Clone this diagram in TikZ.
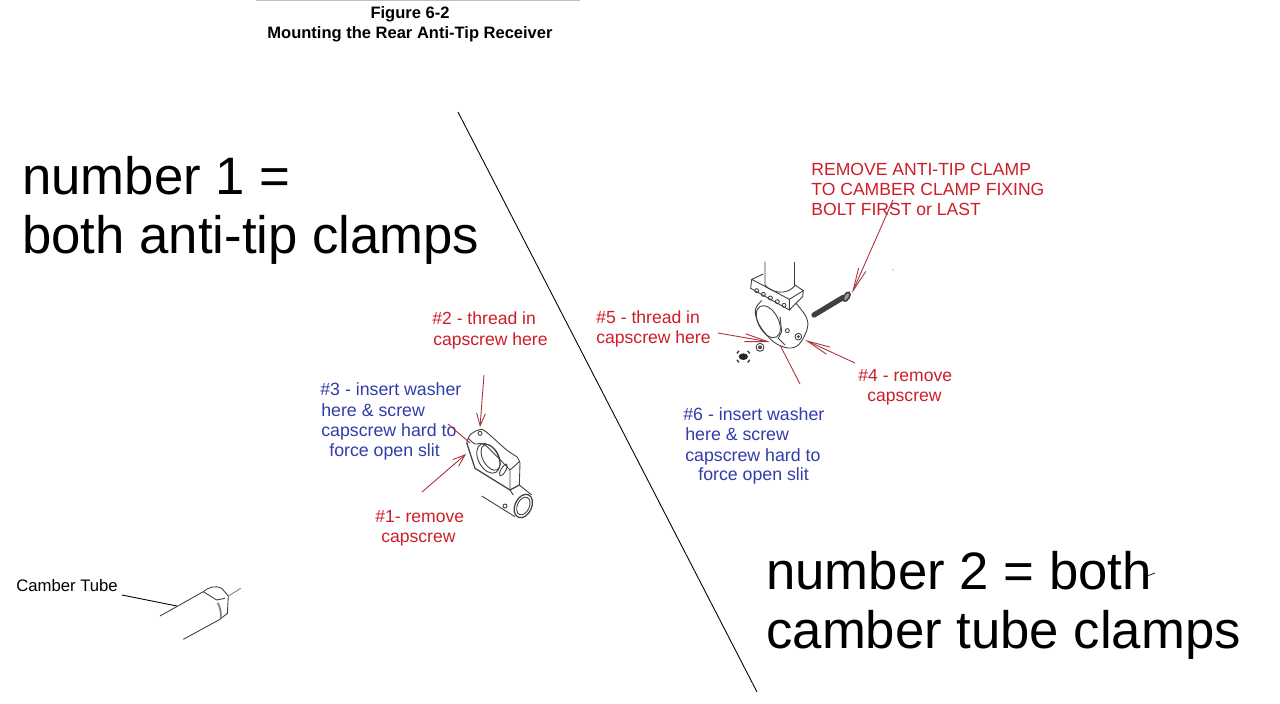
\documentclass[tikz,border=0pt]{standalone}
\usepackage{fontspec}
\setmainfont{Liberation Sans}
\usetikzlibrary{arrows.meta}
\definecolor{notered}{RGB}{205,30,40}
\definecolor{noteblue}{RGB}{50,60,170}
\definecolor{leadred}{RGB}{170,50,60}
\tikzset{
  rednote/.style={anchor=base west,inner sep=0pt,text=notered,font=\fontsize{10}{12}\selectfont},
  bluenote/.style={anchor=base west,inner sep=0pt,text=noteblue,font=\fontsize{10.1}{12}\selectfont},
  bignote/.style={anchor=base west,inner sep=0pt,text=black,font=\fontsize{30}{36}\selectfont},
  titlenote/.style={anchor=base,inner sep=0pt,font=\bfseries\fontsize{9.4}{11}\selectfont},
  lead/.style={leadred,line width=.5pt},
  leadarrow/.style={lead,-{Straight Barb[length=13pt,width=4.5pt]}},
  shortarrow/.style={lead,-{Straight Barb[length=7pt,width=5pt]}},
  part/.style={black!75,line width=.5pt}
}
\begin{document}
\begin{tikzpicture}[x=.02cm,y=-.02cm]
  \useasboundingbox (0,0) rectangle (1280,703);
  \fill[white] (0,0) rectangle (1280,703);
  \draw[black!25,line width=.6pt] (256,0) -- (580,0);

  % titles
  \node[titlenote] (fig) at (410,18) {Figure 6-2};
  \node[titlenote] (mount) at (410,38) {Mounting the Rear Anti-Tip Receiver};

  % dividing line
  \coordinate (divtop) at (458,112);
  \coordinate (divbot) at (757,692);
  \draw[line width=.5pt] (divtop) -- (divbot);

  % big captions
  \node[bignote] (one) at (22,194) {number 1 =};
  \node[bignote] (oneb) at (22,253) {both anti-tip clamps};
  \node[bignote] (two) at (766,589) {number 2 = both};
  \node[bignote] (twob) at (766,648) {camber tube clamps};
  \coordinate (ticka) at (1147,576);
  \coordinate (tickb) at (1155,573);
  \draw[line width=.4pt] (ticka) -- (tickb);

  % red notes, right side
  \node[rednote] (rema) at (811,175) {REMOVE ANTI-TIP CLAMP};
  \node[rednote] (remb) at (811,195) {TO CAMBER CLAMP FIXING};
  \node[rednote] (remc) at (811,215) {BOLT FIRST or LAST};
  \node[rednote] (fivea) at (596,323) {\#5 - thread in};
  \node[rednote] (fiveb) at (596,343) {capscrew here};
  \node[rednote] (foura) at (858,381) {\#4 - remove};
  \node[rednote] (fourb) at (867,401) {capscrew};
  \node[bluenote] (sixa) at (683,420) {\#6 - insert washer};
  \node[bluenote] (sixb) at (685,440) {here \& screw};
  \node[bluenote] (sixc) at (685,461) {capscrew hard to};
  \node[bluenote] (sixd) at (698,480) {force open slit};

  % notes, left side
  \node[rednote] (twoa) at (432,324) {\#2 - thread in};
  \node[rednote] (twoc) at (433,345) {capscrew here};
  \node[bluenote] (threea) at (320,395) {\#3 - insert washer};
  \node[bluenote] (threeb) at (321,416) {here \& screw};
  \node[bluenote] (threec) at (321,436) {capscrew hard to};
  \node[bluenote] (threed) at (329,456) {force open slit};
  \node[rednote] (onea) at (375,522) {\#1- remove};
  \node[rednote] (oneb2) at (381,542) {capscrew};
  \node[anchor=base west,inner sep=0pt,font=\fontsize{9.5}{11}\selectfont] (camber) at (16,591) {Camber Tube};

  % first clamp
  \begin{scope}[shift={(460,420)},scale=.3333]
    \draw[part] plot[smooth,tension=.5] coordinates {(20,68) (30,45) (55,30) (75,33) (140,90) (172,112) (180,130)} -- (178,195);
    \draw[part,line width=.7pt] (20,68) -- (45,145) -- (150,210) -- (178,195);
    \draw[part] plot[smooth,tension=.5] coordinates {(25,55) (45,72) (75,75) (150,150)} -- (150,210);
    \draw[part] (150,150) -- (178,125);
    \draw[part,rotate around={28:(85,115)}] (85,115) ellipse (30 and 48);
    \draw[part,rotate around={28:(92,112)}] (92,112) ellipse (24 and 42);
    \draw[part,rotate around={-30:(130,150)}] (130,150) ellipse (7 and 20);
    \draw[part] (60,40) circle (6);
    \draw[part] (178,195) -- (215,225);
    \draw[part] (65,228) -- (165,290);
    \draw[part] (150,210) -- (160,225);
    \draw[part,line width=.7pt,rotate around={-25:(190,258)}] (190,258) ellipse (25 and 37);
    \draw[part,rotate around={-25:(190,258)}] (190,258) ellipse (18 and 28);
    \draw[part] (135,258) circle (6);
  \end{scope}

  % second clamp
  \begin{scope}[shift={(730,260)},scale=.3333]
    \draw[part] (105,5) -- (105,75) .. controls (125,100) and (170,105) .. (192,80);
    \draw[part] (192,5) -- (192,80);
    \draw[part] (100,42) -- (65,58) -- (178,118) -- (220,92) -- (195,75);
    \draw[part] (65,58) -- (62,85) -- (178,150) -- (178,118);
    \draw[part] (220,92) -- (218,110) -- (178,150);
    \foreach \hx/\hy in {80/92,100/103,121/114,142/125,162/136}
      \draw[part] (\hx,\hy) circle (6);
    \draw[part] plot[smooth,tension=.6] coordinates {(95,122) (76,150) (88,195) (130,245) (175,264) (208,252) (232,205) (228,170) (198,130)};
    \draw[part,rotate around={28:(115,185)}] (115,185) ellipse (30 and 52);
    \draw[part] (150,170) -- (155,215) -- (145,235) -- (165,255);
    \draw[part] (172,212) circle (6);
    \draw[part] (205,230) circle (10);
    \fill[black!70] (205,230) circle (5);
    % bolt and washers
    \draw[black!75,line width=3pt,line cap=round] (252,165) -- (340,112);
    \draw[part,line width=.9pt,fill=black!40,rotate around={-30:(350,110)}] (350,110) ellipse (8 and 15);
    \draw[part] (90,262) circle (12);
    \fill[black!70] (90,262) circle (6);
    \fill[black!85] (40,290) ellipse (14 and 10);
    \foreach \wa in {40,140,220,320}
      \draw[part,line width=.8pt] (40,290) ++(\wa:21) ++(\wa-90:5) -- ++(\wa+90:10);
  \end{scope}
  \fill[black!60] (893,270) circle (.7);

  % camber tube
  \coordinate (ctla) at (122,595);
  \coordinate (ctlb) at (177,606);
  \draw[line width=.5pt] (ctla) -- (ctlb);
  \begin{scope}[shift={(150,580)},scale=.3333]
    \draw[part] (30,108) -- (160,35) .. controls (175,22) and (195,15) .. (215,25) -- (235,48) -- (232,100) -- (210,118);
    \draw[part] (100,178) -- (210,118);
    \draw[part] (160,35) -- (200,60) -- (225,55);
    \draw[black!50,line width=1pt] (203,68) .. controls (212,85) and (214,100) .. (212,116);
    \draw[black!50,line width=.5pt] (235,48) -- (272,25);
  \end{scope}

  % leaders
  \coordinate (aa) at (893,200);
  \coordinate (ab) at (852,293);
  \coordinate (ba) at (718,333);
  \coordinate (bb) at (770,342);
  \coordinate (ca) at (855,363);
  \coordinate (cb) at (805,340);
  \coordinate (da) at (800,384);
  \coordinate (db) at (780,345);
  \coordinate (ea) at (484,375);
  \coordinate (eb) at (480,427);
  \coordinate (fa) at (448,424);
  \coordinate (fb) at (470,443);
  \coordinate (ga) at (422,492);
  \coordinate (gb) at (466,454);
  \draw[leadarrow] (aa) -- (ab);
  \draw[leadarrow] (ba) -- (bb);
  \draw[leadarrow] (ca) -- (cb);
  \draw[lead] (da) -- (db);
  \draw[shortarrow] (ea) -- (eb);
  \draw[lead] (fa) -- (fb);
  \draw[shortarrow] (ga) -- (gb);
\end{tikzpicture}
\end{document}
